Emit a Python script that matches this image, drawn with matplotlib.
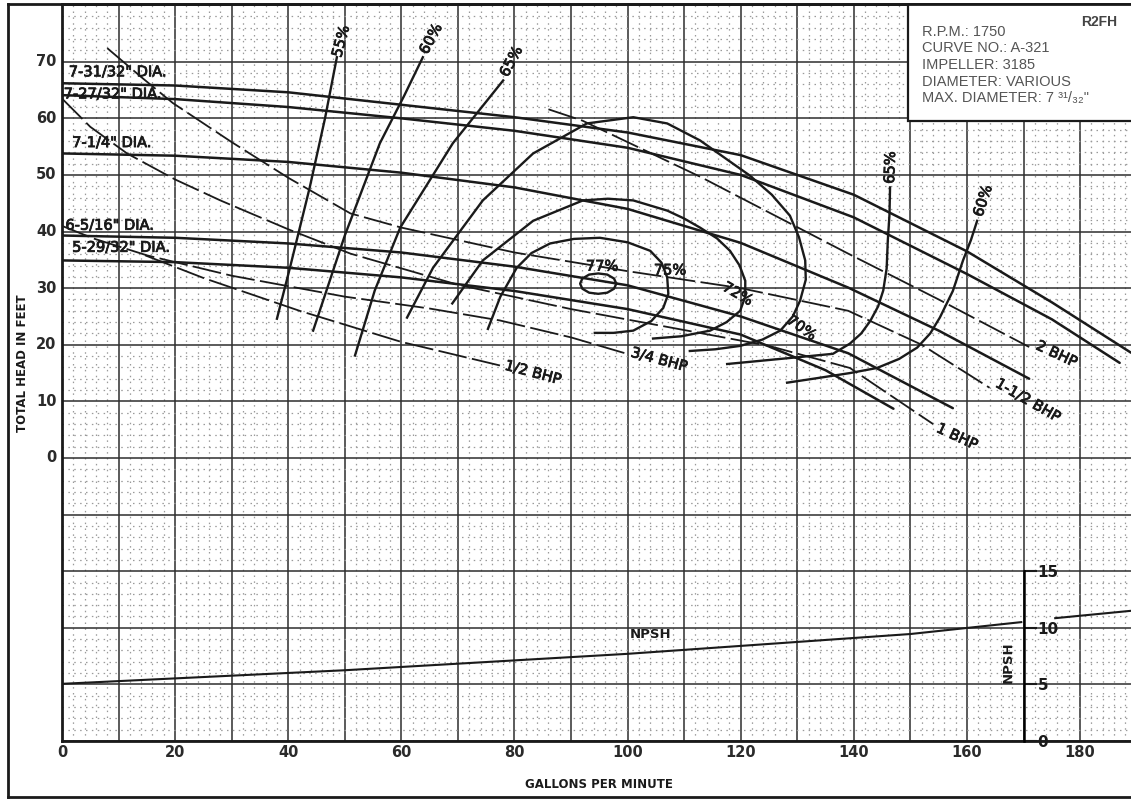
import matplotlib
matplotlib.use("Agg")
import matplotlib.pyplot as plt
import matplotlib.patheffects as pe
from matplotlib.lines import Line2D
from matplotlib.ticker import MultipleLocator

# --- axis values ---
gpm_ticks = [0, 20, 40, 60, 80, 100, 120, 140, 160, 180]
head_ticks = [0, 10, 20, 30, 40, 50, 60, 70]
npsh_ticks = [0, 5, 10, 15]

# --- impeller diameter curves (gpm, feet) ---
dia_labels = ['7-31/32" DIA.', '7-27/32" DIA.', '7-1/4" DIA.', '6-5/16" DIA.', '5-29/32" DIA.']
dia1_q = [0, 20, 40, 60, 80, 100, 120, 140, 160, 175, 189]
dia1_h = [66.2, 65.8, 64.6, 62.4, 60.2, 57.5, 53.5, 46.5, 36.5, 27.5, 18.6]
dia2_q = [0, 20, 40, 60, 80, 100, 120, 140, 160, 175, 187]
dia2_h = [64.1, 63.4, 62.0, 60.0, 57.8, 54.8, 50.0, 42.5, 32.5, 24.5, 16.8]
dia3_q = [0, 20, 40, 60, 80, 100, 120, 139, 155, 171]
dia3_h = [53.8, 53.4, 52.3, 50.4, 47.8, 44.0, 38.0, 30.1, 22.5, 14.0]
dia4_q = [0, 20, 40, 60, 80, 100, 120, 139, 157.5]
dia4_h = [39.3, 38.9, 37.9, 36.3, 33.8, 30.5, 25.0, 18.5, 8.8]
dia5_q = [0, 20, 40, 60, 80, 100, 120, 135, 147]
dia5_h = [34.9, 34.6, 33.6, 31.9, 29.5, 26.3, 21.8, 15.5, 8.7]

# --- brake horsepower lines ---
bhp2_q = [86, 92, 100, 113, 139, 155, 171]
bhp2_h = [61.6, 59.6, 55.8, 49.6, 36.1, 28.0, 19.6]
bhp15_q = [8, 14, 19.6, 30, 40, 51, 60, 80, 100, 120, 139, 152, 164]
bhp15_h = [72.4, 67.3, 62.7, 55.8, 49.5, 43.2, 40.7, 36.3, 33.0, 30.0, 26.0, 20.0, 12.4]
bhp1_q = [0, 5, 11.5, 20, 28, 40, 51, 70, 90, 110, 125, 139.3, 154]
bhp1_h = [63.5, 58.5, 53.8, 49.2, 45.5, 40.4, 36.1, 30.6, 26.3, 22.6, 19.8, 15.9, 6.0]
bhp34_q = [0, 5.5, 15, 30, 50, 65, 77.4, 90, 99.9]
bhp34_h = [41.0, 38.8, 35.8, 32.2, 28.5, 26.4, 24.3, 21.3, 18.4]
bhp12_q = [14.7, 25, 42, 60, 77.6]
bhp12_h = [35.8, 31.8, 26.0, 20.5, 16.3]

# --- efficiency curves ---
eff55_q = [38.0, 40.3, 43.8, 46.5, 48.6]
eff55_h = [24.6, 33.6, 47.8, 60.0, 70.8]
eff60_q = [44.4, 50.0, 56.2, 60.5, 63.8]
eff60_h = [22.5, 39.3, 55.6, 64.0, 70.8]
eff65_q = [51.8, 55.3, 59.8, 69.1, 78.0]
eff65_h = [18.1, 29.6, 40.7, 55.6, 66.7]
eff70_q = [61, 65.6, 74.4, 83.3, 92.8, 101, 107, 112.8, 121.6, 125.5, 128.7, 130.3, 131.4, 131.5,
           130.5, 129.2, 127, 123.8, 119.9, 115.5, 111]
eff70_h = [24.8, 33.6, 45.5, 53.8, 59.1, 60.2, 59.1, 56.1, 49.9, 46.5, 42.8, 39.0, 34.9, 31.5,
           27.8, 25.0, 22.5, 20.9, 19.8, 19.2, 18.9]
eff72_q = [69, 74.4, 83.3, 92.1, 96.5, 101, 107, 110, 112.8, 115.8, 118.1, 119.8, 120.8, 120.8,
           119.9, 117.5, 114.6, 109.5, 104.5]
eff72_h = [27.3, 34.9, 41.9, 45.5, 45.8, 45.5, 43.7, 42.3, 40.7, 38.8, 36.6, 34.0, 31.3, 28.5,
           26.0, 24.0, 22.5, 21.5, 21.1]
eff75_q = [75.3, 77.5, 80.4, 83.0, 86.3, 90.5, 95.1, 100, 104, 106, 107, 107.2, 106.3, 104.2,
           101, 97.5, 94.2]
eff75_h = [22.8, 28.5, 33.6, 36.2, 37.9, 38.7, 38.9, 38.1, 36.6, 34.5, 31.9, 29.0, 26.5, 24.2,
           22.5, 22.1, 22.1]
eff77_q = [98.0, 97.6, 96.4, 94.8, 93.2, 92.0, 91.6, 92.0, 93.2, 94.8, 96.4, 97.6, 98.0]
eff77_h = [30.8, 31.7, 32.4, 32.6, 32.4, 31.7, 30.8, 29.9, 29.2, 29.0, 29.2, 29.9, 30.8]
eff65r_q = [117.6, 127, 136.3, 139.3, 141.3, 142.9, 144.3, 145.2, 145.8, 146.0, 146.3, 146.4]
eff65r_h = [16.6, 17.5, 18.4, 20.2, 22.0, 24.2, 26.8, 29.6, 33.5, 38.4, 43.0, 47.8]
eff60r_q = [128.2, 133.5, 139.3, 144.1, 148, 151.2, 153.5, 155.2, 157.5, 159.3, 160.7, 161.8]
eff60r_h = [13.3, 14.1, 15.0, 15.9, 17.5, 19.5, 22.0, 24.8, 29.5, 34.9, 38.5, 41.9]

# --- NPSH required (feet, own scale) ---
npsh_q = [0, 50, 100, 150, 169.6]
npsh_v = [5.05, 6.25, 7.7, 9.45, 10.5]
npsh2_q = [175.6, 189]
npsh2_v = [10.85, 11.5]

info_lines = ["R.P.M.: 1750", "CURVE NO.: A-321", "IMPELLER: 3185",
              "DIAMETER: VARIOUS", "MAX. DIAMETER: 7 \u00b3\u00b9/\u2083\u2082\""]

INK = "#1a1a1a"
heavy = [pe.withStroke(linewidth=0.6, foreground=INK)]
LBL = dict(fontsize=10.5, color=INK, path_effects=heavy)
fig = plt.figure(figsize=(11.31, 7.99), dpi=100)
ax = fig.add_axes([62 / 1131, 58 / 799, 1 - 62 / 1131, 737 / 799])
ax.set_xlim(0, 189)
ax.set_ylim(-50, 80.2)

# graph paper
ax.xaxis.set_major_locator(MultipleLocator(10))
ax.yaxis.set_major_locator(MultipleLocator(10))
ax.xaxis.set_minor_locator(MultipleLocator(2))
ax.yaxis.set_minor_locator(MultipleLocator(2))
ax.grid(which="major", color="#2e2e2e", lw=1.1)
ax.grid(which="minor", color="#9a9a9a", lw=0.9, ls=(0, (1.2, 3.5)))
ax.set_axisbelow(True)
ax.tick_params(which="both", length=0, labelleft=False, labelbottom=False)
for s in ax.spines.values():
    s.set_linewidth(2)
    s.set_color(INK)
ax.spines["right"].set_visible(False)

for v in gpm_ticks:
    ax.text(v, -51.95, str(v), ha="center", va="center", fontsize=10.5, fontweight="bold", color="#2a2a2a")
for v in head_ticks:
    ax.text(-1.0, v, str(v), ha="right", va="center", fontsize=10.5, fontweight="bold", color="#2a2a2a")

fig.text(599 / 1131, 1 - 784 / 799, "GALLONS PER MINUTE", ha="center", va="center",
         fontsize=8.5, fontweight="bold", color=INK)
fig.text(22 / 1131, 1 - 363 / 799, "TOTAL HEAD IN FEET", rotation=90, ha="center", va="center",
         fontsize=8.5, fontweight="bold", color=INK)

# outer frame of the sheet
fig.add_artist(Line2D([8 / 1131, 8 / 1131], [2 / 799, 795 / 799], color=INK, lw=2))
fig.add_artist(Line2D([8 / 1131, 1.0], [2 / 799, 2 / 799], color=INK, lw=2))
fig.add_artist(Line2D([8 / 1131, 1.0], [795 / 799, 795 / 799], color=INK, lw=2))

# impeller curves
for q, h in [(dia1_q, dia1_h), (dia2_q, dia2_h), (dia3_q, dia3_h), (dia4_q, dia4_h), (dia5_q, dia5_h)]:
    ax.plot(q, h, color=INK, lw=1.8, solid_capstyle="round")
dia_pos = [(1.2, 66.9), (0.3, 63.0), (1.8, 54.4), (0.6, 39.8), (1.8, 35.9)]
for lab, (x, y) in zip(dia_labels, dia_pos):
    ax.text(x, y, lab, ha="left", va="bottom", **LBL)

# BHP lines
for q, h in [(bhp2_q, bhp2_h), (bhp15_q, bhp15_h), (bhp1_q, bhp1_h), (bhp34_q, bhp34_h), (bhp12_q, bhp12_h)]:
    ax.plot(q, h, color=INK, lw=1.3, ls=(0, (16, 3)))
ax.text(bhp2_q[-1] + 0.8, bhp2_h[-1] - 1.2, "2 BHP", rotation=-25, ha="left", va="center", **LBL)
ax.text(bhp15_q[-1] + 0.6, bhp15_h[-1] - 2.2, "1-1/2 BHP", rotation=-30, ha="left", va="center", **LBL)
ax.text(bhp1_q[-1] + 0.2, bhp1_h[-1] - 2.2, "1 BHP", rotation=-25, ha="left", va="center", **LBL)
ax.text(bhp34_q[-1] + 0.4, bhp34_h[-1] - 1.0, "3/4 BHP", rotation=-15, ha="left", va="center", **LBL)
ax.text(bhp12_q[-1] + 0.4, bhp12_h[-1] - 1.2, "1/2 BHP", rotation=-15, ha="left", va="center", **LBL)

# efficiency curves
for q, h in [(eff55_q, eff55_h), (eff60_q, eff60_h), (eff65_q, eff65_h), (eff70_q, eff70_h),
             (eff72_q, eff72_h), (eff75_q, eff75_h), (eff77_q, eff77_h), (eff65r_q, eff65r_h),
             (eff60r_q, eff60r_h)]:
    ax.plot(q, h, color=INK, lw=1.7, solid_joinstyle="round")
ax.text(eff55_q[-1] + 0.7, eff55_h[-1] - 0.3, "55%", rotation=75, ha="center", va="bottom", **LBL)
ax.text(eff60_q[-1] + 1.4, eff60_h[-1] + 0.1, "60%", rotation=62, ha="center", va="bottom", **LBL)
ax.text(eff65_q[-1] + 1.4, eff65_h[-1] + 0.2, "65%", rotation=62, ha="center", va="bottom", **LBL)
ax.text(130.8, 23.0, "70%", rotation=-35, ha="center", va="center", **LBL)
ax.text(119.5, 29.0, "72%", rotation=-30, ha="center", va="center", **LBL)
ax.text(107.5, 33.2, "75%", ha="center", va="center", **LBL)
ax.text(95.5, 33.9, "77%", ha="center", va="center", **LBL)
ax.text(eff65r_q[-1], eff65r_h[-1] + 0.6, "65%", rotation=88, ha="center", va="bottom", **LBL)
ax.text(eff60r_q[-1] + 1.0, eff60r_h[-1] + 0.4, "60%", rotation=72, ha="center", va="bottom", **LBL)

# NPSH on its own scale: 0 ft at the bottom edge, 2 head units per foot
ax2 = ax.twinx()
ax2.set_ylim(0, (80.2 + 50) / 2)
for s in ["top", "bottom", "left"]:
    ax2.spines[s].set_visible(False)
ax2.spines["right"].set_position(("data", 170))
ax2.spines["right"].set_bounds(0, 15)
ax2.spines["right"].set_linewidth(1.8)
ax2.set_yticks(npsh_ticks)
ax2.tick_params(axis="y", length=9, width=1.5, pad=1, labelsize=11, colors=INK)
for t in ax2.get_yticklabels():
    t.set_fontweight("bold")
ax2.plot(npsh_q, npsh_v, color=INK, lw=1.5)
ax2.plot(npsh2_q, npsh2_v, color=INK, lw=1.5)
ax2.text(104, 9.4, "NPSH", ha="center", va="center", fontsize=9.5, fontweight="bold", color=INK)
ax2.text(167.3, 7.0, "NPSH", rotation=90, ha="center", va="center", fontsize=9.5, fontweight="bold", color=INK)

# data plate
ax.add_patch(plt.Rectangle((149.5, 59.6), 45, 25, facecolor="white", edgecolor=INK, lw=1.6, zorder=5))
fam = ["Liberation Sans", "DejaVu Sans"]
for i, line in enumerate(info_lines):
    fig.text(922 / 1131, 1 - (32 + 16.5 * i) / 799, line, ha="left", va="center", fontsize=10.5,
             color="#555555", family=fam, zorder=6)
fig.text(1117 / 1131, 1 - 22 / 799, "R2FH", ha="right", va="center", fontsize=10,
         fontweight="bold", color="#444444", family=fam, zorder=6)

fig.savefig("out.png", dpi=100, facecolor="white")
